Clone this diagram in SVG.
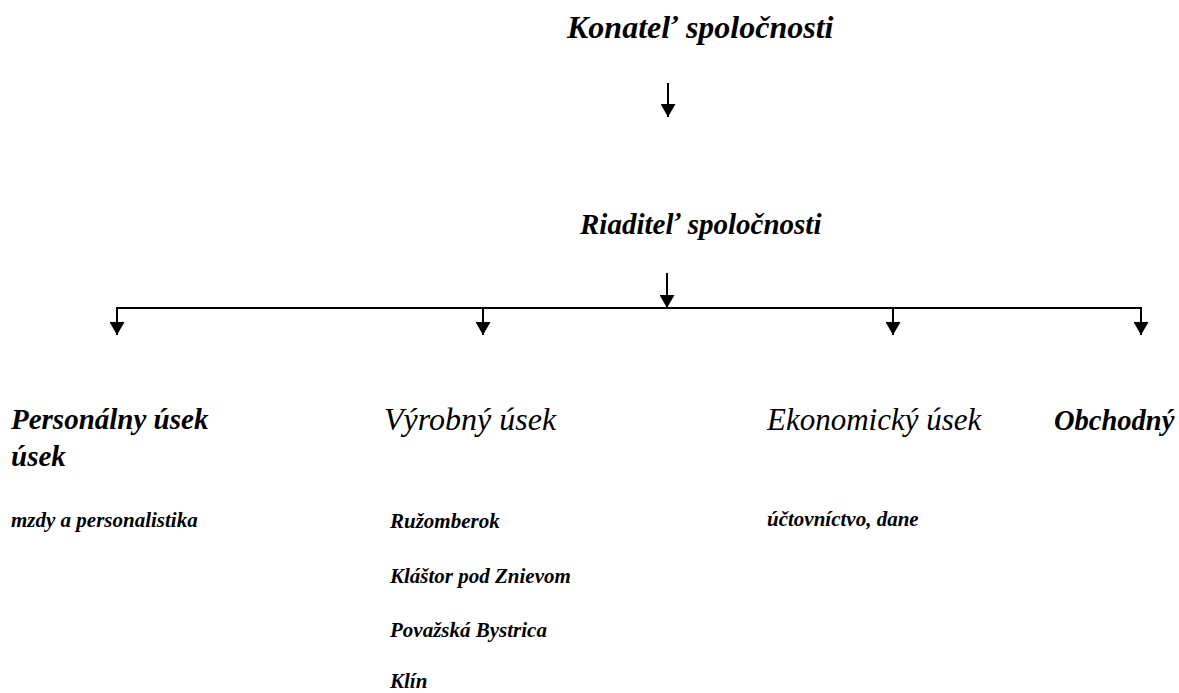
<svg xmlns="http://www.w3.org/2000/svg" width="1179" height="693" viewBox="0 0 1179 693">
<style>
text{font-family:"Liberation Serif","Times New Roman",serif;font-style:italic;fill:#000}
.b{font-weight:bold}
.r{font-weight:normal}
.s{font-size:21px;font-weight:bold}
.ln{stroke:#000;stroke-width:2;fill:none}
</style>
<defs>
<marker id="ah" viewBox="0 0 10 10" refX="10" refY="5" markerWidth="13" markerHeight="15" markerUnits="userSpaceOnUse" orient="auto-start-reverse" preserveAspectRatio="none">
<path d="M0,0 L10,5 L0,10 Z" fill="#000"/>
</marker>
</defs>
<rect width="1179" height="693" fill="#fff"/>
<g id="connectors">
<line class="ln" x1="668" y1="83" x2="668" y2="117" marker-end="url(#ah)"/>
<line class="ln" x1="667" y1="273" x2="667" y2="308" marker-end="url(#ah)"/>
<polyline class="ln" points="117,335 117,308 1141,308 1141,335" marker-start="url(#ah)" marker-end="url(#ah)"/>
<line class="ln" x1="483" y1="308" x2="483" y2="335" marker-end="url(#ah)"/>
<line class="ln" x1="893" y1="308" x2="893" y2="335" marker-end="url(#ah)"/>
</g>
<g id="konatel"><text class="b" font-size="32" x="567" y="38">Konateľ spoločnosti</text></g>
<g id="riaditel"><text class="b" font-size="29" x="580" y="234">Riaditeľ spoločnosti</text></g>
<g id="personalny">
<text class="b" font-size="29" x="11" y="429">Personálny úsek</text>
<text class="b" font-size="29" x="11" y="466">úsek</text>
<text class="s" x="11" y="527">mzdy a personalistika</text>
</g>
<g id="vyrobny">
<text class="r" font-size="32" x="384" y="430">Výrobný úsek</text>
<text class="s" x="390" y="528">Ružomberok</text>
<text class="s" x="390" y="583">Kláštor pod Znievom</text>
<text class="s" x="390" y="637">Považská Bystrica</text>
<text class="s" x="390" y="688">Klín</text>
</g>
<g id="ekonomicky">
<text class="r" font-size="31" x="767" y="430">Ekonomický úsek</text>
<text class="s" x="767" y="526">účtovníctvo, dane</text>
</g>
<g id="obchodny"><text class="b" font-size="28.5" x="1054" y="430">Obchodný</text></g>
</svg>
